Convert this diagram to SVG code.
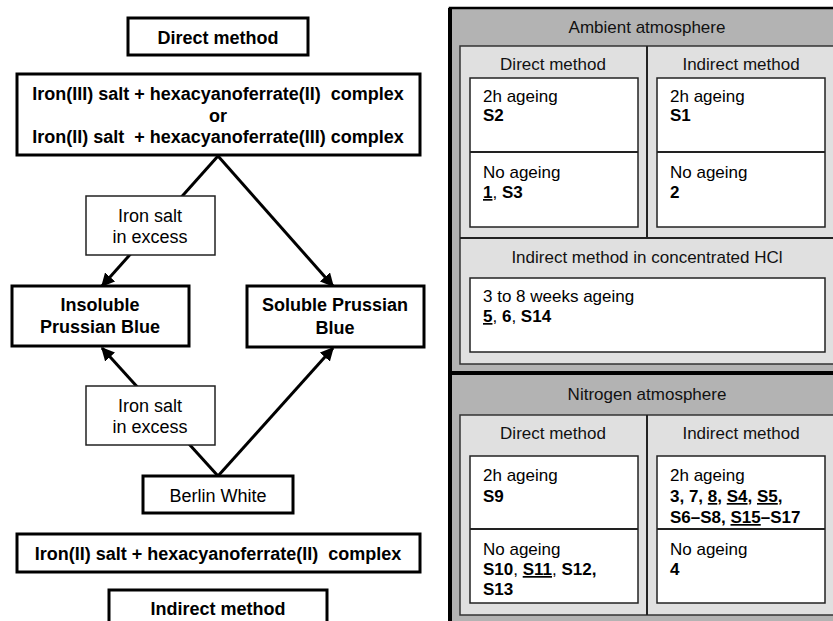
<svg xmlns="http://www.w3.org/2000/svg" width="833" height="621" viewBox="0 0 833 621">
<style>
.bx{fill:#fff;stroke:#000;stroke-width:3}
.lb{fill:#fff;stroke:#222;stroke-width:1.5}
.tb{font-family:"Liberation Sans",Arial,sans-serif;font-size:18px;font-weight:bold;fill:#000;text-anchor:middle}
.tr{font-family:"Liberation Sans",Arial,sans-serif;font-size:18px;fill:#000;text-anchor:middle}
.rt{font-family:"Liberation Sans",Arial,sans-serif;font-size:17px;fill:#111;text-anchor:middle}
.rl{font-family:"Liberation Sans",Arial,sans-serif;font-size:17px;fill:#000}
.b{font-weight:bold}
.u{text-decoration:underline}
.wb{fill:#fff;stroke:#222;stroke-width:1.5}
.pn{fill:#e0e0e0;stroke:#333;stroke-width:1.5}
.ln{stroke:#222;stroke-width:2;fill:none}
.ar{stroke:#000;stroke-width:3;fill:none;marker-end:url(#ah)}
.pl{stroke:#000;stroke-width:3;fill:none}
</style>
<defs>
<marker id="ah" viewBox="0 0 10 10" refX="9" refY="5" markerWidth="4.5" markerHeight="4.5" orient="auto" markerUnits="strokeWidth">
<path d="M0,0 L10,5 L0,10 z" fill="#000"/>
</marker>
</defs>
<rect width="833" height="621" fill="#fff"/>

<g id="connectors">
<line class="ar" x1="218" y1="156" x2="102" y2="286"/>
<line class="ar" x1="218" y1="156" x2="333" y2="286"/>
<line class="ar" x1="218" y1="476" x2="102" y2="348"/>
<line class="ar" x1="218" y1="476" x2="333" y2="348"/>
</g>

<g id="direct-method">
<rect class="bx" x="128" y="18" width="180" height="37"/>
<text class="tb" x="218" y="44">Direct method</text>
</g>
<g id="direct-reactants">
<rect class="bx" x="17" y="74" width="403" height="81"/>
<text class="tb" x="218" y="100" xml:space="preserve">Iron(III) salt + hexacyanoferrate(II)  complex</text>
<text class="tb" x="218" y="122">or</text>
<text class="tb" x="218" y="143" xml:space="preserve">Iron(II) salt  + hexacyanoferrate(III) complex</text>
</g>
<g id="label-excess-1">
<rect class="lb" x="86" y="196" width="129" height="59"/>
<text class="tr" x="150" y="222">Iron salt</text>
<text class="tr" x="150" y="243">in excess</text>
</g>
<g id="insoluble-pb">
<rect class="bx" x="12" y="286" width="177" height="60"/>
<text class="tb" x="100" y="311">Insoluble</text>
<text class="tb" x="100" y="333">Prussian Blue</text>
</g>
<g id="soluble-pb">
<rect class="bx" x="247" y="286" width="177" height="61"/>
<text class="tb" x="335" y="311">Soluble Prussian</text>
<text class="tb" x="335" y="334">Blue</text>
</g>
<g id="label-excess-2">
<rect class="lb" x="86" y="386" width="129" height="59"/>
<text class="tr" x="150" y="412">Iron salt</text>
<text class="tr" x="150" y="433">in excess</text>
</g>
<g id="berlin-white">
<rect class="bx" x="143" y="476" width="150" height="37"/>
<text class="tr" x="218" y="502">Berlin White</text>
</g>
<g id="indirect-reactants">
<rect class="bx" x="17" y="534" width="403" height="38"/>
<text class="tb" x="218" y="560" xml:space="preserve">Iron(II) salt + hexacyanoferrate(II)  complex</text>
</g>
<g id="indirect-method">
<rect class="bx" x="109" y="590" width="218" height="40"/>
<text class="tb" x="218" y="615">Indirect method</text>
</g>

<g id="samples-table">
<rect x="450" y="8" width="400" height="625" fill="#b3b3b3" stroke="#000" stroke-width="2.5"/>
<line x1="450" y1="8" x2="450" y2="621" stroke="#000" stroke-width="4"/>
<line x1="450" y1="373" x2="833" y2="373" stroke="#000" stroke-width="4"/>

<g id="ambient">
<text class="rt" x="647" y="33">Ambient atmosphere</text>
<rect class="pn" x="460" y="46" width="380" height="318"/>
<line class="ln" x1="647" y1="46" x2="647" y2="238"/>
<line class="ln" x1="460" y1="238" x2="840" y2="238"/>
<text class="rt" x="553" y="70">Direct method</text>
<text class="rt" x="741" y="70">Indirect method</text>
<rect class="wb" x="470" y="78" width="168" height="149"/>
<line class="ln" x1="470" y1="152" x2="638" y2="152"/>
<rect class="wb" x="657" y="78" width="168" height="149"/>
<line class="ln" x1="657" y1="152" x2="825" y2="152"/>
<text class="rl" x="483" y="102">2h ageing</text>
<text class="rl b" x="483" y="121">S2</text>
<text class="rl" x="483" y="178">No ageing</text>
<text class="rl" x="483" y="198"><tspan class="b u">1</tspan>, <tspan class="b">S3</tspan></text>
<text class="rl" x="670" y="102">2h ageing</text>
<text class="rl b" x="670" y="121">S1</text>
<text class="rl" x="670" y="178">No ageing</text>
<text class="rl b" x="670" y="198">2</text>
<text class="rt" x="647" y="263">Indirect method in concentrated HCl</text>
<rect class="wb" x="470" y="278" width="355" height="74"/>
<text class="rl" x="483" y="302">3 to 8 weeks ageing</text>
<text class="rl" x="483" y="322"><tspan class="b u">5</tspan>, <tspan class="b">6</tspan>, <tspan class="b">S14</tspan></text>
</g>

<g id="nitrogen">
<text class="rt" x="647" y="400">Nitrogen atmosphere</text>
<rect class="pn" x="460" y="415" width="380" height="200"/>
<line class="ln" x1="647" y1="415" x2="647" y2="615"/>
<text class="rt" x="553" y="439">Direct method</text>
<text class="rt" x="741" y="439">Indirect method</text>
<rect class="wb" x="470" y="456" width="168" height="147"/>
<line class="ln" x1="470" y1="529" x2="638" y2="529"/>
<rect class="wb" x="657" y="456" width="168" height="147"/>
<line class="ln" x1="657" y1="529" x2="825" y2="529"/>
<text class="rl" x="483" y="481">2h ageing</text>
<text class="rl b" x="483" y="502">S9</text>
<text class="rl" x="483" y="555">No ageing</text>
<text class="rl" x="483" y="575"><tspan class="b">S10</tspan>, <tspan class="b u">S11</tspan>, <tspan class="b">S12,</tspan></text>
<text class="rl b" x="483" y="595">S13</text>
<text class="rl" x="670" y="481">2h ageing</text>
<text class="rl b" x="670" y="502">3, 7, <tspan class="u">8</tspan>, <tspan class="u">S4</tspan>, <tspan class="u">S5</tspan>,</text>
<text class="rl b" x="670" y="523">S6–S8, <tspan class="u">S15</tspan>–S17</text>
<text class="rl" x="670" y="555">No ageing</text>
<text class="rl b" x="670" y="575">4</text>
</g>
</g>
</svg>
